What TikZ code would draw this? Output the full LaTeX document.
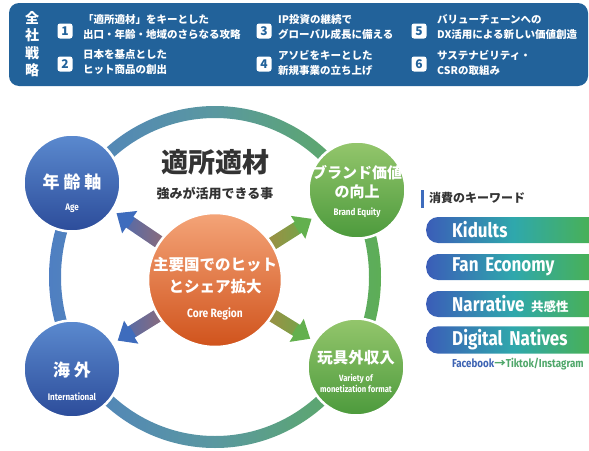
\documentclass[tikz,border=0pt]{standalone}
\usepackage{fontspec}
\newfontfamily\jpfont{Noto Sans CJK JP}
\newfontfamily\condfont{Fira Sans}[FakeStretch=0.85]
\usetikzlibrary{arrows.meta,positioning,fadings}
\definecolor{bannerblue}{HTML}{22629A}
\definecolor{ballblueT}{HTML}{5B8ACF}
\definecolor{ballblueB}{HTML}{2C4C9A}
\definecolor{ballgreenT}{HTML}{94C66C}
\definecolor{ballgreenB}{HTML}{4C9A3C}
\definecolor{coreT}{HTML}{F4A478}
\definecolor{coreB}{HTML}{D0531C}
\definecolor{ringblue}{HTML}{4F7FC2}
\definecolor{ringmid}{HTML}{5A98A0}
\definecolor{ringgreen}{HTML}{5DAE56}
\definecolor{pillblue}{HTML}{3B5DB8}
\definecolor{pillteal}{HTML}{2FA8AC}
\definecolor{pillgreen}{HTML}{4CB24A}
\definecolor{titlegray}{HTML}{333333}
\definecolor{fbblue}{HTML}{3D63B3}
\definecolor{fbgreen}{HTML}{4FA76A}
\definecolor{arrblue}{HTML}{3E6CBD}
\definecolor{arrgreen}{HTML}{63B04E}

\begin{document}
\begin{tikzpicture}[x=1pt,y=-1pt]
	\tikzset{badge/.style={fill=white, rounded corners=2.5pt, minimum size=15pt, inner sep=0pt, text=bannerblue, font=\jpfont\bfseries\fontsize{12}{12}\selectfont},
		item/.style={anchor=west, align=left, inner sep=0pt, text=white, font=\jpfont\bfseries\fontsize{10.5}{15}\selectfont},
		ball/.style={circle, minimum size=97pt, inner sep=0pt, draw=white, line width=2.5pt},
		blueball/.style={ball, top color=ballblueT, bottom color=ballblueB},
		greenball/.style={ball, top color=ballgreenT, bottom color=ballgreenB},
		corebox/.style={circle, minimum size=134pt, inner sep=0pt, draw=white, line width=2.5pt, top color=coreT, bottom color=coreB},
		balltxt/.style={text=white, inner sep=0pt, align=center, font=\jpfont\bfseries\fontsize{17}{20}\selectfont},
		subtxt/.style={text=white, inner sep=0pt, align=center, font=\condfont\bfseries\fontsize{9.5}{11}\selectfont},
		feed/.style={line width=13pt, -{Triangle[length=16pt,width=26pt]}, shorten >=4pt},
		glow/.style={line width=13pt, draw=coreB!70!coreT, shorten >=22pt},
		pill/.style={anchor=west, minimum height=26pt, minimum width=175pt, rounded corners=12pt,
			left color=pillblue, right color=pillgreen, middle color=pillteal,
			text width=123pt, inner xsep=26pt, align=left, text=white,
			font=\condfont\bfseries\fontsize{20}{20}\selectfont},
	}
	\useasboundingbox (0,0) rectangle (589,450);
	% strategy banner
	\fill[bannerblue, rounded corners=10pt] (9,3) rectangle (588,86);
	\node[text=white, align=center, inner sep=0pt, font=\jpfont\bfseries\fontsize{14}{17.3}\selectfont] (zensha) at (32,44) {全\\社\\戦\\略};
	\node[badge] (b1) at (65,31) {1};
	\node[badge] (b2) at (65,64) {2};
	\node[badge] (b3) at (264,31) {3};
	\node[badge] (b4) at (264,64) {4};
	\node[badge] (b5) at (419,31) {5};
	\node[badge] (b6) at (419,64) {6};
	\node[item] (t1) at (83,27.5) {「適所適材」をキーとした\\出口・年齢・地域のさらなる攻略};
	\node[item] (t2) at (83,62.5) {日本を基点とした\\ヒット商品の創出};
	\node[item] (t3) at (278,27.5) {IP投資の継続で\\グローバル成長に備える};
	\node[item] (t4) at (278,62.5) {アソビをキーとした\\新規事業の立ち上げ};
	\node[item] (t5) at (437,27.5) {バリューチェーンへの\\DX活用による新しい価値創造};
	\node[item] (t6) at (437,62.5) {サステナビリティ・\\CSRの取組み};

	% ring
	\shade[even odd rule, left color=ringblue, right color=ringgreen, middle color=ringmid]
		(215,277) ellipse [x radius=166, y radius=171] (215,277) ellipse [x radius=154, y radius=159];

	\node[text=titlegray, font=\jpfont\bfseries\fontsize{27}{27}\selectfont] (title) at (215,162) {適所適材};
	\node[text=titlegray, font=\jpfont\bfseries\fontsize{13}{13}\selectfont, below=5pt of title] (subtitle) {強みが活用できる事};

	\node[blueball] (age) at (72,183) {};
	\node[blueball] (intl) at (72,369) {};
	\node[greenball] (brand) at (357,190) {};
	\node[greenball] (nontoy) at (356,367) {};

	\foreach \tgt/\col/\fd in {age/arrblue/west, intl/arrblue/west, brand/arrgreen/east, nontoy/arrgreen/east} {
		\draw[feed, \col] (215,280) -- (\tgt);
		\draw[glow, path fading=\fd] (215,280) -- (\tgt);
	}
	\node[corebox] (core) at (215,280) {};

	\node[balltxt] (agej) at ([yshift=1pt]age.center) {年 齢 軸};
	\node[subtxt] (agee) at ([yshift=-25pt]age.center) {Age};
	\node[balltxt] (intlj) at ([yshift=-1pt]intl.center) {海 外};
	\node[subtxt] (intle) at ([yshift=-28pt]intl.center) {International};
	\node[balltxt, font=\jpfont\bfseries\fontsize{15}{19}\selectfont] (brandj) at ([yshift=7.5pt]brand.center) {ブランド価値\\の向上};
	\node[subtxt] (brande) at ([yshift=-23pt]brand.center) {Brand Equity};
	\node[balltxt, font=\jpfont\bfseries\fontsize{15.5}{19}\selectfont] (nontoyj) at ([yshift=9pt]nontoy.center) {玩具外収入};
	\node[subtxt, font=\condfont\bfseries\fontsize{9}{11}\selectfont] (nontoye) at ([yshift=-16.5pt]nontoy.center) {Variety of\\monetization format};
	\node[balltxt, font=\jpfont\bfseries\fontsize{15.5}{22}\selectfont] (corej) at ([yshift=4pt]core.center) {主要国でのヒット\\とシェア拡大};
	\node[subtxt, font=\condfont\bfseries\fontsize{12}{12}\selectfont] (coree) at ([yshift=-34pt]core.center) {Core Region};

	% keywords
	\fill[arrblue] (421,190) rectangle (424,208);
	\node[anchor=west, inner sep=0pt, text=titlegray, font=\jpfont\bfseries\fontsize{12}{12}\selectfont] (kwtitle) at (429,198) {消費のキーワード};
	\node[pill] (k1) at (426,230) {Kidults};
	\node[pill] (k2) at (426,267) {Fan Economy};
	\node[pill] (k3) at (426,304) {Narrative {\jpfont\fontsize{12.5}{12}\selectfont 共感性}};
	\node[pill] (k4) at (426,340) {Digital Natives};
	\node[anchor=west, inner sep=0pt, font=\condfont\bfseries\fontsize{11.5}{12}\selectfont] (sns) at (452,364) {\textcolor{fbblue}{Facebook}\textcolor{fbgreen}{{\jpfont →}Tiktok/Instagram}};
\end{tikzpicture}
\end{document}
